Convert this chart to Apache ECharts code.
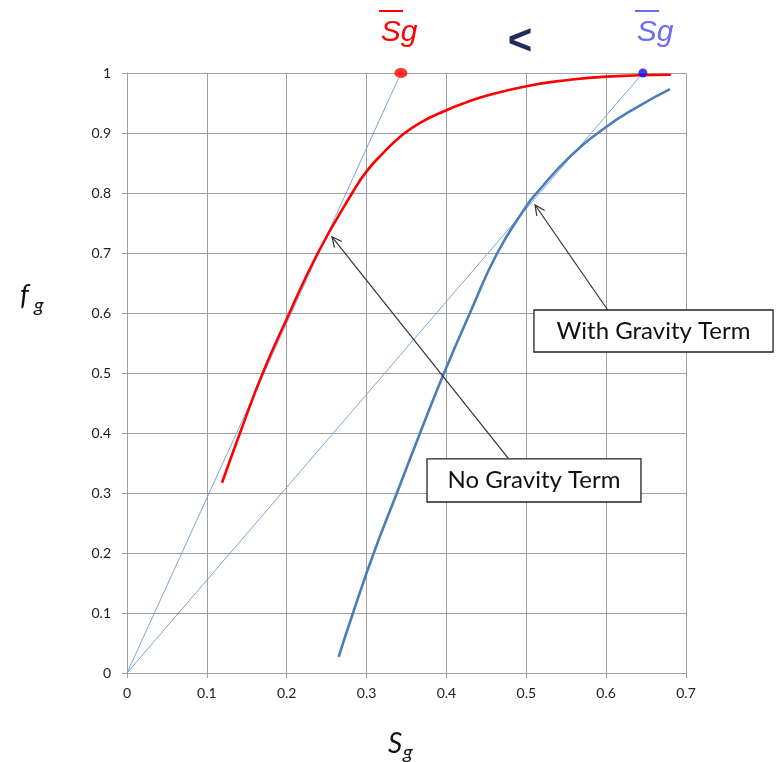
<!DOCTYPE html>
<html><head><meta charset="utf-8">
<script src="https://cdn.jsdelivr.net/npm/echarts@6/dist/echarts.min.js"></script>
<style>html,body{margin:0;padding:0;background:#fff}#c{width:778px;height:762px}</style>
</head><body><div id="c"></div>
<script>
// ---- data ----
const xTickLabels = ['0','0.1','0.2','0.3','0.4','0.5','0.6','0.7'];
const yTickLabels = ['0','0.1','0.2','0.3','0.4','0.5','0.6','0.7','0.8','0.9','1'];
const noGravX = [0.119, 0.1415, 0.170, 0.200, 0.239, 0.282, 0.300, 0.321, 0.345, 0.367, 0.400, 0.425, 0.450, 0.500, 0.550, 0.600, 0.681];
const noGravY = [0.317, 0.400, 0.500, 0.590, 0.700, 0.800, 0.836, 0.867, 0.897, 0.917, 0.938, 0.951, 0.962, 0.978, 0.988, 0.994, 0.997];
const withGravX = [0.265, 0.283, 0.309, 0.338, 0.367, 0.397, 0.4295, 0.4637, 0.500, 0.513, 0.555, 0.600, 0.640, 0.680];
const withGravY = [0.027, 0.100, 0.200, 0.300, 0.400, 0.500, 0.600, 0.700, 0.778, 0.800, 0.861, 0.910, 0.944, 0.973];
const sgBarNoGrav = [0.343, 1.0];
const sgBarWithGrav = [0.646, 1.0];
const origin = [0, 0];
const annoNoGrav = {text: 'No Gravity Term', tip: [0.2567, 0.727], tail: [0.478, 0.357], box: [0.3757, 0.357, 0.6436, 0.285]};
const annoWithGrav = {text: 'With Gravity Term', tip: [0.511, 0.780], tail: [0.602, 0.605], box: [0.5096, 0.605, 0.809, 0.535]};

const pairs = (xs, ys) => xs.map((x, i) => [x, ys[i]]);
const GRAY = '#A0A0A0';
const chart = echarts.init(document.getElementById('c'));
const option = {
  animation: false,
  backgroundColor: '#fff',
  grid: {left: 127, right: 92, top: 73, bottom: 89, containLabel: false},
  xAxis: {
    type: 'value', min: 0, max: 0.7, interval: 0.1,
    axisLine: {show: true, onZero: false, lineStyle: {color: GRAY, width: 1}},
    axisTick: {show: true, length: 5, lineStyle: {color: GRAY}},
    axisLabel: {margin: 13, color: '#222', fontFamily: 'Lato', fontSize: 14,
      formatter: (v) => xTickLabels[Math.round(v * 10)]},
    splitLine: {show: true, lineStyle: {color: GRAY, width: 1}}
  },
  yAxis: {
    type: 'value', min: 0, max: 1, interval: 0.1,
    axisLine: {show: true, onZero: false, lineStyle: {color: GRAY, width: 1}},
    axisTick: {show: true, length: 5, lineStyle: {color: GRAY}},
    axisLabel: {margin: 16, color: '#222', fontFamily: 'Lato', fontSize: 14,
      formatter: (v) => yTickLabels[Math.round(v * 10)]},
    splitLine: {show: true, lineStyle: {color: GRAY, width: 1}}
  },
  series: [
    {type: 'line', data: [origin, sgBarNoGrav], showSymbol: false, lineStyle: {color: '#7FA5D5', width: 1}, z: 3},
    {type: 'line', data: [origin, sgBarWithGrav], showSymbol: false, lineStyle: {color: '#7FA5D5', width: 1}, z: 3},
    {type: 'line', data: pairs(withGravX, withGravY), smooth: 0.5, showSymbol: false,
      lineStyle: {color: '#4A7EBB', width: 2.6}, z: 4},
    {type: 'line', data: pairs(noGravX, noGravY), smooth: 0.5, showSymbol: false,
      lineStyle: {color: '#FF0000', width: 2.6}, z: 5},
    {type: 'scatter', data: [sgBarNoGrav], symbol: 'circle', symbolSize: [13, 10],
      itemStyle: {color: '#FF0000'}, z: 6, clip: false},
    {type: 'scatter', data: [sgBarWithGrav], symbol: 'circle', symbolSize: 9,
      itemStyle: {color: '#1010F0'}, z: 6, clip: false}
  ]
};
chart.setOption(option);

function px(p) { return chart.convertToPixel({gridIndex: 0}, p); }
function arrow(a) {
  const t = px(a.tip), s = px(a.tail);
  const ang = Math.atan2(s[1] - t[1], s[0] - t[0]);
  const L = 11, da = 0.45;
  const p1 = [t[0] + L * Math.cos(ang + da), t[1] + L * Math.sin(ang + da)];
  const p2 = [t[0] + L * Math.cos(ang - da), t[1] + L * Math.sin(ang - da)];
  const b1 = px([a.box[0], a.box[1]]), b2 = px([a.box[2], a.box[3]]);
  return [
    {type: 'line', z: 100, shape: {x1: s[0], y1: s[1], x2: t[0], y2: t[1]}, style: {stroke: '#333', lineWidth: 1.2}},
    {type: 'polyline', z: 100, shape: {points: [p1, t, p2]}, style: {stroke: '#333', lineWidth: 1.2, fill: null}},
    {type: 'rect', z: 101, shape: {x: b1[0], y: b1[1], width: b2[0] - b1[0], height: b2[1] - b1[1]},
      style: {fill: '#fff', stroke: '#222', lineWidth: 1.3}},
    {type: 'text', z: 102, x: (b1[0] + b2[0]) / 2, y: (b1[1] + b2[1]) / 2,
      style: {text: a.text, font: '24px Lato', fill: '#111', align: 'center', verticalAlign: 'middle'}}
  ];
}
const gfx = [].concat(arrow(annoNoGrav), arrow(annoWithGrav));
gfx.push(
  {type: 'text', z: 110, x: 399, y: 33, style: {text: 'Sg', font: 'italic 30px "Liberation Sans"', fill: '#FF0000', align: 'center', verticalAlign: 'middle'}},
  {type: 'line', z: 110, shape: {x1: 379, y1: 11, x2: 403, y2: 11}, style: {stroke: '#FF0000', lineWidth: 2}},
  {type: 'text', z: 110, x: 520, y: 42, style: {text: '<', font: 'bold 42px "Liberation Sans"', fill: '#1F2D5A', align: 'center', verticalAlign: 'middle'}},
  {type: 'text', z: 110, x: 655, y: 33, style: {text: 'Sg', font: 'italic 30px "Liberation Sans"', fill: '#6B6BF8', align: 'center', verticalAlign: 'middle'}},
  {type: 'line', z: 110, shape: {x1: 635, y1: 11, x2: 659, y2: 11}, style: {stroke: '#6B6BF8', lineWidth: 2}},
  {type: 'text', z: 110, x: 20, y: 296, style: {text: 'f', font: 'italic 28px Lato', fill: '#111', align: 'left', verticalAlign: 'middle'}},
  {type: 'text', z: 110, x: 34, y: 306, style: {text: 'g', font: 'italic 20px Lato', fill: '#111', align: 'left', verticalAlign: 'middle'}},
  {type: 'text', z: 110, x: 388, y: 744, style: {text: 'S', font: 'italic 28px Lato', fill: '#111', align: 'left', verticalAlign: 'middle'}},
  {type: 'text', z: 110, x: 403, y: 753, style: {text: 'g', font: 'italic 20px Lato', fill: '#111', align: 'left', verticalAlign: 'middle'}}
);
chart.setOption({graphic: gfx});
</script>
</body></html>
